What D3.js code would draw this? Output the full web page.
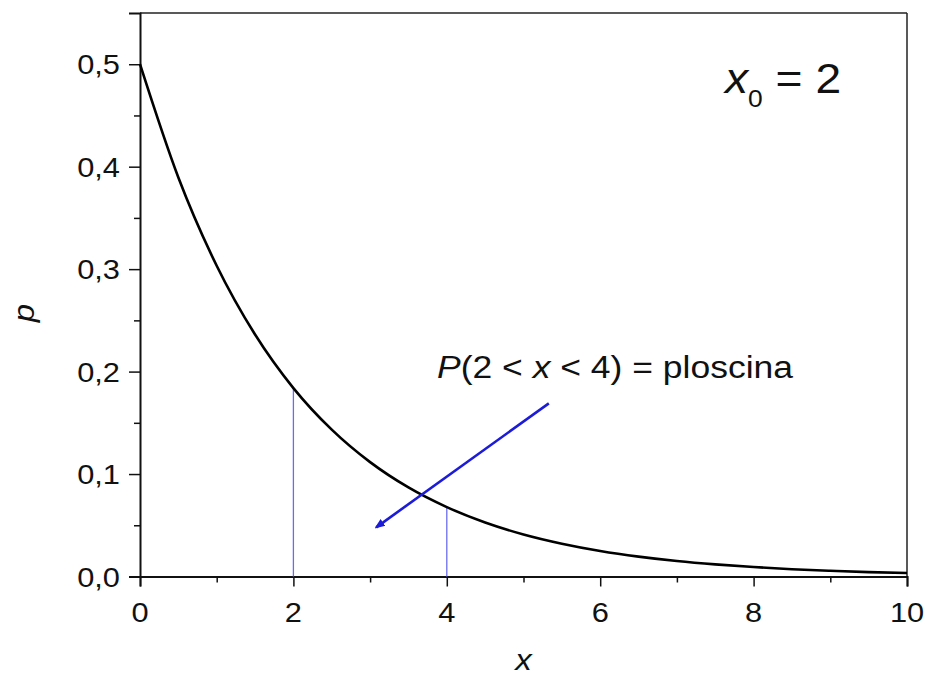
<!DOCTYPE html>
<html>
<head>
<meta charset="utf-8">
<script src="https://cdn.jsdelivr.net/npm/d3@7"></script>
<style>
  html, body { margin: 0; padding: 0; background: #fff; }
  svg { display: block; font-family: "Liberation Sans", Arial, sans-serif; }
</style>
</head>
<body>
<svg id="chart" width="925" height="677"></svg>
<script>
// ---- data ----
const xValues = [0, 0.5, 1, 1.5, 2, 2.5, 3, 3.5, 4, 4.5, 5, 5.5, 6, 6.5, 7, 7.5, 8, 8.5, 9, 9.5, 10];
const pValues = [0.5000, 0.3894, 0.3033, 0.2362, 0.1839, 0.1433, 0.1116, 0.0869, 0.0677, 0.0527, 0.0410,
                 0.0320, 0.0249, 0.0194, 0.0151, 0.0118, 0.0092, 0.0071, 0.0056, 0.0043, 0.0034];
const xTicks = [0, 2, 4, 6, 8, 10];
const xTickLabels = ["0", "2", "4", "6", "8", "10"];
const yTicks = [0, 0.1, 0.2, 0.3, 0.4, 0.5];
const yTickLabels = ["0,0", "0,1", "0,2", "0,3", "0,4", "0,5"];
const xMinorTicks = [1, 3, 5, 7, 9];
const yMinorTicks = [0.05, 0.15, 0.25, 0.35, 0.45];
const boundaryX = [2, 4];            // vertical marker lines
const boundaryP = [0.184, 0.068];    // curve heights at those lines
const arrowFrom = [5.33, 0.169];     // arrow start (data coords)
const arrowTo = [3.08, 0.048];       // arrow tip (data coords)
const xDomain = [0, 10];
const yDomain = [0, 0.55];

const svg = d3.select("#chart");
const L = 140, R = 907, T = 13, B = 576.5;
const sx = 1.1; // horizontal stretch of the original's lettering

const x = d3.scaleLinear().domain(xDomain).range([L, R]);
const y = d3.scaleLinear().domain(yDomain).range([B, T]);

const data = xValues.map((v, i) => ({ x: v, p: pValues[i] }));

// helper for stretched text
function stext(g, px, py, anchor, fontSize, build, rot, sxx) {
  const grp = g.append("g")
    .attr("transform", `translate(${px},${py})${rot ? ` rotate(${rot})` : ""} scale(${sxx || sx},1)`);
  const t = grp.append("text")
    .attr("text-anchor", anchor)
    .attr("font-size", fontSize)
    .attr("fill", "#111");
  build(t);
  return grp;
}

// frame (top & right)
svg.append("line").attr("x1", L).attr("x2", R).attr("y1", T).attr("y2", T)
  .attr("stroke", "#222").attr("stroke-width", 1.5);
svg.append("line").attr("x1", R).attr("x2", R).attr("y1", T).attr("y2", B)
  .attr("stroke", "#222").attr("stroke-width", 1.5);

// axes
const xAxis = d3.axisBottom(x).tickValues(xTicks).tickSize(10).tickFormat(() => "");
const yAxis = d3.axisLeft(y).tickValues(yTicks).tickSize(11).tickFormat(() => "");
const gx = svg.append("g").attr("transform", `translate(0,${B})`).call(xAxis);
const gy = svg.append("g").attr("transform", `translate(${L},0)`).call(yAxis);
[gx, gy].forEach(g => {
  g.select(".domain").attr("stroke", "#111").attr("stroke-width", 2);
  g.selectAll(".tick line").attr("stroke", "#111").attr("stroke-width", 1.5);
});
const gxm = svg.append("g").attr("transform", `translate(0,${B})`)
  .call(d3.axisBottom(x).tickValues(xMinorTicks).tickSize(6).tickFormat(() => ""));
const gym = svg.append("g").attr("transform", `translate(${L},0)`)
  .call(d3.axisLeft(y).tickValues(yMinorTicks).tickSize(6).tickFormat(() => ""));
[gxm, gym].forEach(g => {
  g.select(".domain").remove();
  g.selectAll(".tick line").attr("stroke", "#111").attr("stroke-width", 1.5);
});

// tick labels
xTicks.forEach((v, i) => {
  stext(svg, x(v), B + 45, "middle", 28, t => t.text(xTickLabels[i]));
});
yTicks.forEach((v, i) => {
  stext(svg, L - 20, y(v) + 10, "end", 28, t => t.text(yTickLabels[i]));
});

// axis titles
stext(svg, x(5), 670, "middle", 30, t => t.attr("font-style", "italic").text("x"));
stext(svg, 34, 313, "middle", 30, t => t.attr("font-style", "italic").text("p"), -90);

// vertical marker lines
svg.selectAll(".marker").data(boundaryX).join("line")
  .attr("class", "marker")
  .attr("x1", d => x(d)).attr("x2", d => x(d))
  .attr("y1", y(0)).attr("y2", (d, i) => y(boundaryP[i]))
  .attr("stroke", "#6b6bf0").attr("stroke-width", 1.3);

// curve
svg.append("path").datum(data)
  .attr("fill", "none").attr("stroke", "#000").attr("stroke-width", 2.6)
  .attr("d", d3.line().x(d => x(d.x)).y(d => y(d.p)).curve(d3.curveMonotoneX));

// arrow
svg.append("defs").append("marker")
  .attr("id", "ah").attr("viewBox", "0 0 10 10").attr("refX", 8).attr("refY", 5)
  .attr("markerWidth", 4).attr("markerHeight", 4).attr("orient", "auto")
  .append("path").attr("d", "M0,1 L10,5 L0,9 Z").attr("fill", "#1c1cd8");
svg.append("line")
  .attr("x1", x(arrowFrom[0])).attr("y1", y(arrowFrom[1]))
  .attr("x2", x(arrowTo[0])).attr("y2", y(arrowTo[1]))
  .attr("stroke", "#1c1cd8").attr("stroke-width", 2.6)
  .attr("marker-end", "url(#ah)");

// annotation text
stext(svg, 437, 378, "start", 31, t => {
  t.append("tspan").attr("font-style", "italic").text("P");
  t.append("tspan").text("(2 < ");
  t.append("tspan").attr("font-style", "italic").text("x");
  t.append("tspan").text(" < 4) = ploscina");
}, null, 1.145);

// x0 = 2 label
stext(svg, 725, 93, "start", 42, t => {
  t.append("tspan").attr("font-style", "italic").text("x");
  t.append("tspan").attr("font-size", 24).attr("dy", 14).text("0");
  t.append("tspan").attr("dy", -14).text(" = 2");
});
</script>
</body>
</html>
